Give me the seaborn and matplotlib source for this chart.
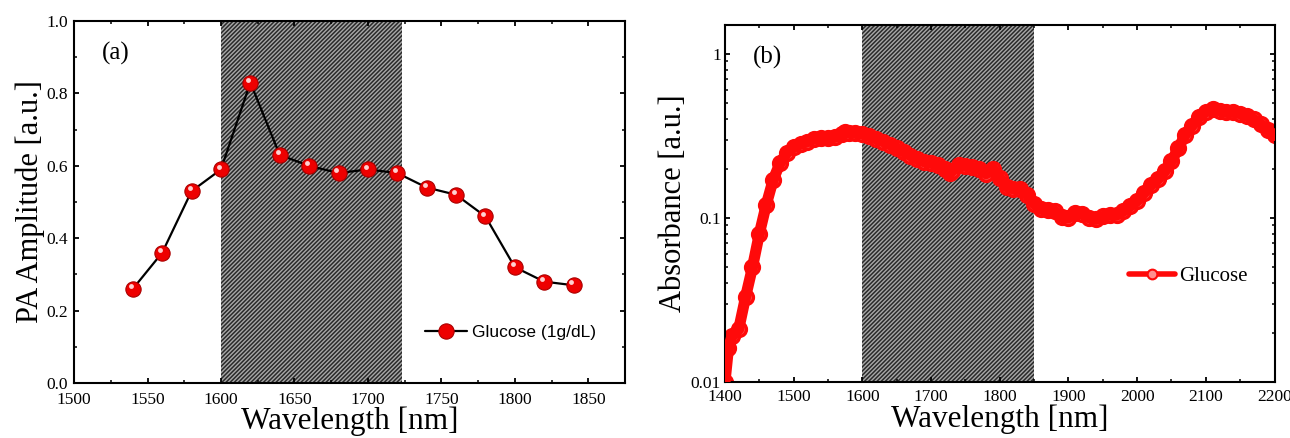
import numpy as np
import pandas as pd
import matplotlib
matplotlib.use("Agg")
import matplotlib.pyplot as plt
import matplotlib.transforms as mtransforms
from matplotlib.ticker import MultipleLocator, LogLocator, NullFormatter, FixedLocator, FixedFormatter
import seaborn as sns

# (a) PA amplitude, glucose 1g/dL
pa_wavelength = [1540, 1560, 1580, 1600, 1620, 1640, 1660, 1680, 1700, 1720,
                 1740, 1760, 1780, 1800, 1820, 1840]
pa_amplitude = [0.26, 0.36, 0.53, 0.59, 0.83, 0.63, 0.60, 0.58, 0.59, 0.58,
                0.54, 0.52, 0.46, 0.32, 0.28, 0.27]

# (b) absorbance spectrum of glucose
abs_wavelength = [1400, 1405, 1410, 1420, 1430, 1440, 1450, 1460, 1470, 1480,
                  1490, 1500, 1510, 1520, 1530, 1540, 1550, 1560, 1570, 1575,
                  1580, 1590, 1600, 1610, 1620, 1630, 1640, 1650, 1660, 1670,
                  1680, 1690, 1700, 1710, 1720, 1727, 1730, 1740, 1750, 1760,
                  1770, 1780, 1790, 1800, 1810, 1820, 1830, 1840, 1850, 1860,
                  1870, 1880, 1890, 1900, 1910, 1920, 1930, 1940, 1950, 1960,
                  1970, 1980, 1990, 2000, 2010, 2020, 2030, 2040, 2050, 2060,
                  2070, 2080, 2090, 2100, 2110, 2120, 2130, 2140, 2150, 2160,
                  2170, 2180, 2190, 2200]
absorbance = [0.010, 0.016, 0.019, 0.021, 0.033, 0.050, 0.080, 0.120, 0.170, 0.215,
              0.250, 0.270, 0.282, 0.292, 0.303, 0.305, 0.305, 0.310, 0.325, 0.336,
              0.330, 0.328, 0.326, 0.315, 0.303, 0.292, 0.280, 0.266, 0.253, 0.240,
              0.228, 0.220, 0.216, 0.210, 0.198, 0.187, 0.192, 0.211, 0.207, 0.203,
              0.199, 0.186, 0.199, 0.175, 0.155, 0.150, 0.150, 0.138, 0.122, 0.113,
              0.111, 0.110, 0.101, 0.100, 0.107, 0.106, 0.100, 0.098, 0.102, 0.104,
              0.104, 0.110, 0.118, 0.127, 0.142, 0.158, 0.172, 0.192, 0.222, 0.265,
              0.322, 0.365, 0.410, 0.445, 0.460, 0.450, 0.440, 0.440, 0.432, 0.418,
              0.398, 0.372, 0.345, 0.318]

band_a = (1600, 1723)
band_b = (1600, 1850)

df_a = pd.DataFrame({"wl": pa_wavelength, "amp": pa_amplitude})
df_b = pd.DataFrame({"wl": abs_wavelength, "abs": absorbance})

sns.set_theme(style="ticks")
plt.rcParams["font.family"] = ["Liberation Serif", "DejaVu Serif"]
plt.rcParams["text.color"] = "black"
plt.rcParams["axes.labelcolor"] = "black"
plt.rcParams["hatch.linewidth"] = 1.1
plt.rcParams["axes.linewidth"] = 1.5
for ax_ in ("x", "y"):
    plt.rcParams[f"{ax_}tick.direction"] = "in"
    plt.rcParams[f"{ax_}tick.major.size"] = 3.5
    plt.rcParams[f"{ax_}tick.minor.size"] = 2
    plt.rcParams[f"{ax_}tick.major.width"] = 1.3
    plt.rcParams[f"{ax_}tick.minor.width"] = 1.1
    plt.rcParams[f"{ax_}tick.color"] = "black"
    plt.rcParams[f"{ax_}tick.labelcolor"] = "black"

fig = plt.figure(figsize=(12.9, 4.38), dpi=100)
ax1 = fig.add_axes([0.0574, 0.1256, 0.4271, 0.8264])
ax2 = fig.add_axes([0.562, 0.128, 0.426, 0.815])

# ---- panel (a)
ax1.axvspan(*band_a, facecolor="#a8a8a8", edgecolor="#2a2a2a", hatch="////////", linewidth=0, zorder=0)
sns.lineplot(data=df_a, x="wl", y="amp", ax=ax1, color="black", linewidth=1.6,
             marker="o", markersize=11, markerfacecolor="#ee0000",
             markeredgecolor="#aa0000", markeredgewidth=0.8, label="Glucose (1g/dL)", zorder=3)
# small highlight on each ball
hl = mtransforms.offset_copy(ax1.transData, fig=fig, x=-1.5, y=2.0, units="points")
ax1.plot(df_a["wl"], df_a["amp"], linestyle="none", marker="o", markersize=3.5,
         color="#ffd0d0", markeredgewidth=0, transform=hl, zorder=4)
ax1.set_xlim(1500, 1875)
ax1.set_ylim(0, 1.0)
ax1.xaxis.set_major_locator(MultipleLocator(50))
ax1.xaxis.set_minor_locator(MultipleLocator(25))
ax1.yaxis.set_major_locator(MultipleLocator(0.2))
ax1.yaxis.set_minor_locator(MultipleLocator(0.1))
ax1.yaxis.set_major_formatter(matplotlib.ticker.FormatStrFormatter("%.1f"))
ax1.tick_params(which="both", top=True, right=True, labelsize=12.5)
ax1.tick_params(axis="x", pad=6.5)
ax1.tick_params(axis="y", pad=4.5)
ax1.set_xlabel("Wavelength [nm]", fontsize=22.5, labelpad=-1)
ax1.set_ylabel("PA Amplitude [a.u.]", fontsize=22, labelpad=1)
ax1.text(0.05, 0.91, "(a)", transform=ax1.transAxes, fontsize=18, va="center")
leg1 = ax1.legend(loc="center left", bbox_to_anchor=(0.625, 0.14), frameon=False,
                  prop={"family": "Liberation Sans", "size": 12.5},
                  handlelength=2.4, handletextpad=0.3, borderaxespad=0)

# ---- panel (b)
ax2.axvspan(*band_b, facecolor="#a8a8a8", edgecolor="#2a2a2a", hatch="////////", linewidth=0, zorder=0)
ax2.plot(df_b["wl"], df_b["abs"], linestyle="none", marker="o", markersize=10,
         markerfacecolor="#ff5050", markeredgecolor="#ff0a0a", markeredgewidth=2.4, zorder=2)
sns.lineplot(data=df_b, x="wl", y="abs", ax=ax2, color="#ff0a0a", linewidth=8,
             zorder=3, legend=False)
ax2.set_yscale("log")
ax2.set_xlim(1400, 2200)
ax2.set_ylim(0.01, 1.5)
ax2.xaxis.set_major_locator(MultipleLocator(100))
ax2.xaxis.set_minor_locator(MultipleLocator(50))
ax2.yaxis.set_major_locator(FixedLocator([0.01, 0.1, 1]))
ax2.yaxis.set_major_formatter(FixedFormatter(["0.01", "0.1", "1"]))
ax2.yaxis.set_minor_locator(LogLocator(base=10, subs=np.arange(2, 10)))
ax2.yaxis.set_minor_formatter(NullFormatter())
ax2.tick_params(which="both", top=True, right=True, labelsize=12.5)
ax2.tick_params(axis="x", pad=5)
ax2.tick_params(axis="y", pad=3)
ax2.set_xlabel("Wavelength [nm]", fontsize=22.5, labelpad=0)
ax2.set_ylabel("Absorbance [a.u.]", fontsize=22, labelpad=2)
ax2.text(0.05, 0.91, "(b)", transform=ax2.transAxes, fontsize=18, va="center")
handle = matplotlib.lines.Line2D([], [], color="#ff0a0a", linewidth=4, marker="o",
                                 markersize=7, markerfacecolor="#ff9090",
                                 markeredgecolor="#ff0a0a", markeredgewidth=1.5)
ax2.legend([handle], ["Glucose"], loc="center left", bbox_to_anchor=(0.72, 0.296),
           frameon=False, fontsize=15, handlelength=2.2, handletextpad=0.2, borderaxespad=0)

for ax in (ax1, ax2):
    for s in ax.spines.values():
        s.set_color("black")

fig.savefig("out.png", dpi=100)
